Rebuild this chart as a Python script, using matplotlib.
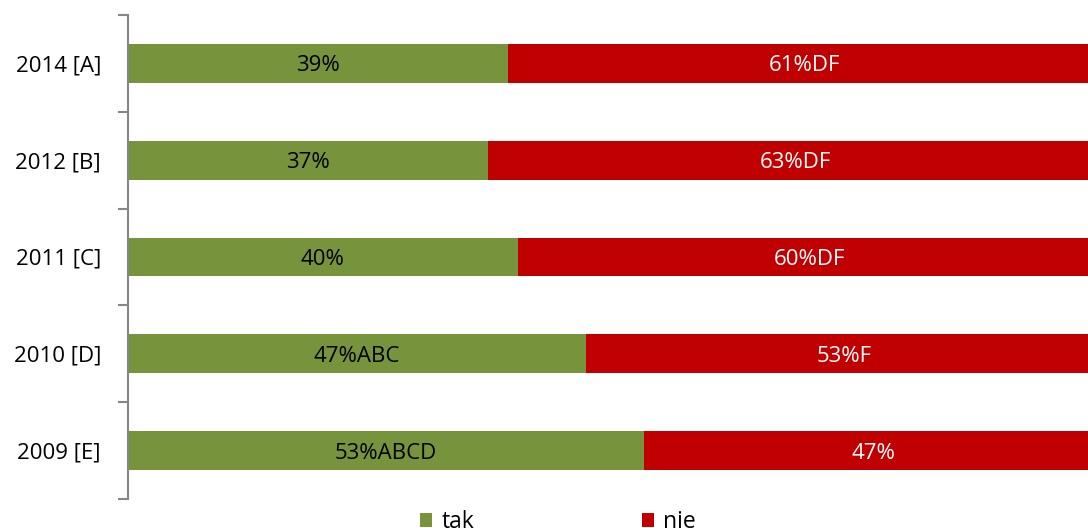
import matplotlib
matplotlib.use("Agg")
import matplotlib.pyplot as plt
from matplotlib.patches import Patch

categories = ["2014 [A]", "2012 [B]", "2011 [C]", "2010 [D]", "2009 [E]"]
tak = [39, 37, 40, 47, 53]
nie = [61, 63, 60, 53, 47]
tak_labels = ["39%", "37%", "40%", "47%ABC", "53%ABCD"]
nie_labels = ["61%DF", "63%DF", "60%DF", "53%F", "47%"]

green = "#77933C"
red = "#C00000"
plt.rcParams['font.family'] = ['Open Sans', 'DejaVu Sans']

fig = plt.figure(figsize=(10.88, 5.28), dpi=100)
W, H = 1088, 528
ax = fig.add_axes([128 / W, 1 - 499 / H, (1102 - 128) / W, (499 - 15) / H])

y = list(range(len(categories)))
ax.barh(y, tak, height=0.4, color=green)
ax.barh(y, nie, left=tak, height=0.4, color=red)
for i in y:
    ax.text(tak[i] / 2, i, tak_labels[i], ha="center", va="center_baseline", fontsize=16, color="black")
    ax.text(tak[i] + nie[i] / 2, i, nie_labels[i], ha="center", va="center_baseline", fontsize=16, color="white")

ax.set_xlim(0, 100)
ax.set_ylim(4.5, -0.5)
ax.set_yticks([i for i in y])
ax.set_yticklabels(categories, fontsize=16)
ax.set_yticks([i - 0.5 for i in range(len(categories) + 1)], minor=True)
ax.tick_params(axis="y", which="major", length=0, pad=19.5)
ax.tick_params(axis="y", which="minor", length=7, width=1.5, color="#868686", direction="out")
ax.set_xticks([])
for s in ["top", "right", "bottom"]:
    ax.spines[s].set_visible(False)
ax.spines["left"].set_color("#868686")
ax.spines["left"].set_linewidth(1.5)

handles = [Patch(facecolor=green, label="tak"), Patch(facecolor=red, label="nie")]
fig.legend(handles=handles, loc="center", bbox_to_anchor=(558 / W, 1 - 522 / H), ncol=2,
           frameon=False, fontsize=16.5, handlelength=0.55, handleheight=0.55,
           handletextpad=0.4, columnspacing=7.3, borderpad=0)

fig.savefig("out.png", dpi=100)
